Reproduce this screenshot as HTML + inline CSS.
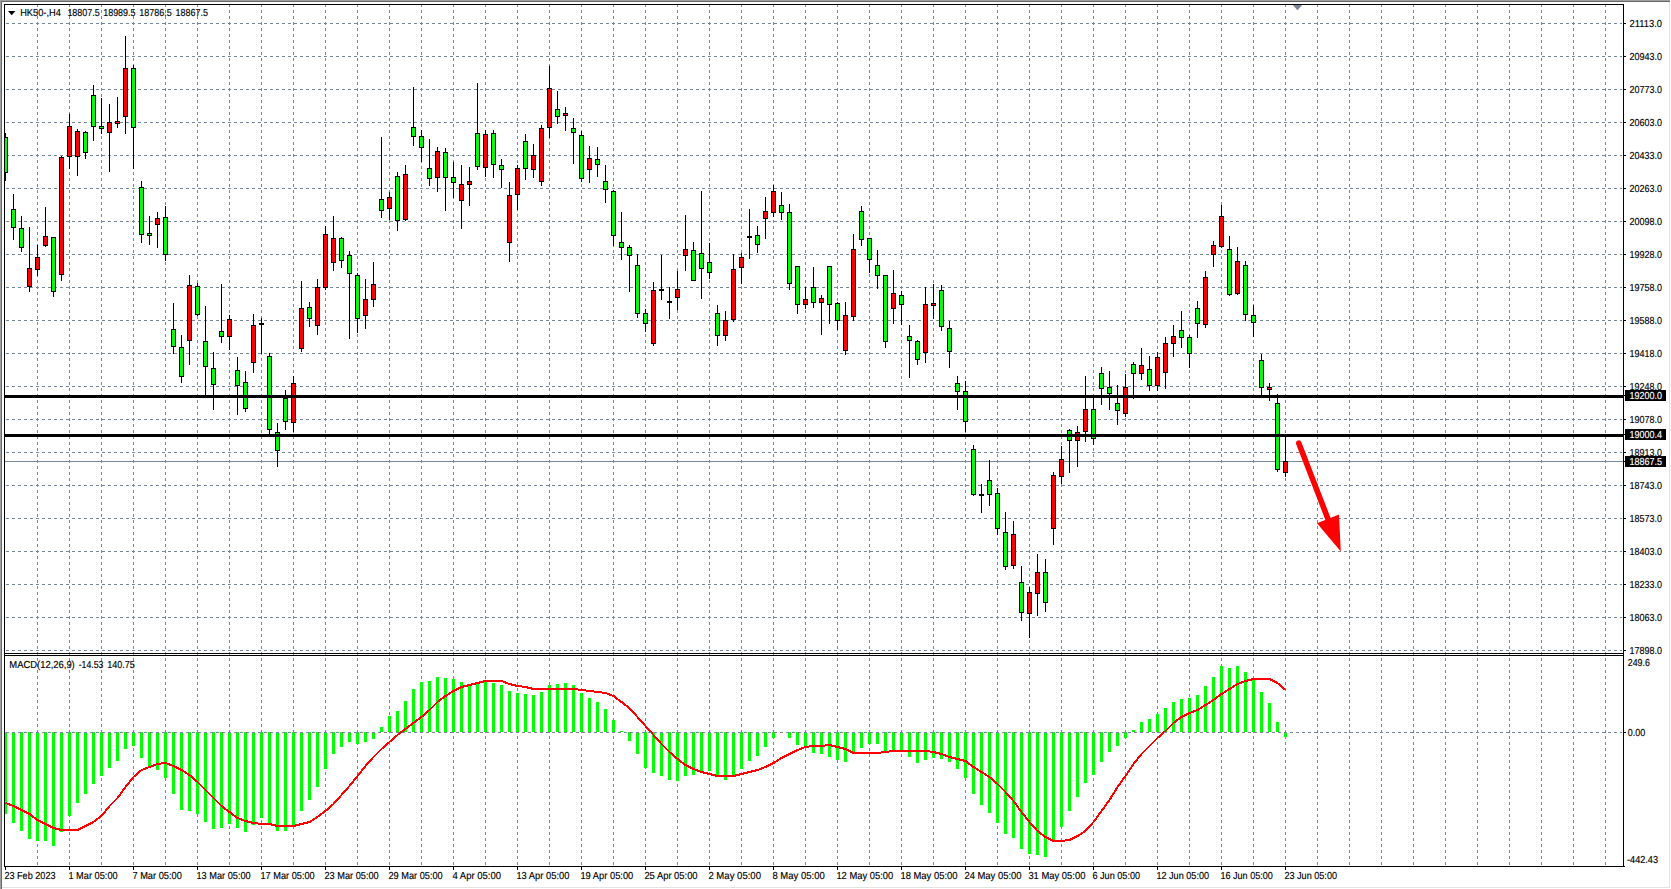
<!DOCTYPE html>
<html><head><meta charset="utf-8"><title>HK50-,H4</title>
<style>
html,body{margin:0;padding:0;background:#fff;width:1671px;height:889px;overflow:hidden;font-family:"Liberation Sans",sans-serif;}
text{font-family:"Liberation Sans",sans-serif;}
</style></head>
<body>
<svg width="1671" height="889" viewBox="0 0 1671 889" shape-rendering="crispEdges" text-rendering="geometricPrecision" font-family="'Liberation Sans', sans-serif" style="position:absolute;left:0;top:0;display:block">
<rect x="0" y="0" width="1671" height="889" fill="#ffffff"/>
<rect x="0" y="0" width="1670" height="1" fill="#a0a0a0"/>
<rect x="0" y="1" width="1670" height="1" fill="#696969"/>
<rect x="0" y="0" width="1" height="889" fill="#a0a0a0"/>
<rect x="1" y="1" width="1" height="889" fill="#696969"/>
<rect x="1669" y="2" width="1" height="886" fill="#e3e3e3"/>
<rect x="2" y="887" width="1668" height="1" fill="#e3e3e3"/>
<path d="M37.5 4V866M69.5 4V866M101.5 4V866M133.5 4V866M165.5 4V866M197.5 4V866M229.5 4V866M261.5 4V866M293.5 4V866M325.5 4V866M357.5 4V866M389.5 4V866M421.5 4V866M453.5 4V866M485.5 4V866M517.5 4V866M549.5 4V866M581.5 4V866M613.5 4V866M645.5 4V866M677.5 4V866M709.5 4V866M741.5 4V866M773.5 4V866M805.5 4V866M837.5 4V866M869.5 4V866M901.5 4V866M933.5 4V866M965.5 4V866M997.5 4V866M1029.5 4V866M1061.5 4V866M1093.5 4V866M1125.5 4V866M1157.5 4V866M1189.5 4V866M1221.5 4V866M1253.5 4V866M1285.5 4V866M1317.5 4V866M1349.5 4V866M1381.5 4V866M1413.5 4V866M1445.5 4V866M1477.5 4V866M1509.5 4V866M1541.5 4V866M1573.5 4V866M1605.5 4V866" stroke="#778899" stroke-width="1" stroke-dasharray="3 3" fill="none"/>
<path d="M6 23.5H1622M6 56.5H1622M6 89.5H1622M6 122.5H1622M6 155.5H1622M6 188.5H1622M6 221.5H1622M6 254.5H1622M6 287.5H1622M6 320.5H1622M6 353.5H1622M6 386.5H1622M6 419.5H1622M6 452.5H1622M6 485.5H1622M6 518.5H1622M6 551.5H1622M6 584.5H1622M6 617.5H1622M6 650.5H1622M6 732.5H1622" stroke="#778899" stroke-width="1" stroke-dasharray="3 3" fill="none"/>
<path d="M1292.8 5H1302.2L1297.5 10.2Z" fill="#778899" shape-rendering="geometricPrecision"/>
<rect x="5" y="461" width="1618" height="1" fill="#778899"/>
<rect x="5" y="133" width="1" height="48" fill="#000"/>
<rect x="3" y="137" width="5" height="36" fill="#000"/>
<rect x="4" y="138" width="3" height="34" fill="#00ff00"/>
<rect x="13" y="194" width="1" height="46" fill="#000"/>
<rect x="11" y="209" width="5" height="19" fill="#000"/>
<rect x="12" y="210" width="3" height="17" fill="#00ff00"/>
<rect x="21" y="216" width="1" height="36" fill="#000"/>
<rect x="19" y="228" width="5" height="20" fill="#000"/>
<rect x="20" y="229" width="3" height="18" fill="#00ff00"/>
<rect x="29" y="227" width="1" height="65" fill="#000"/>
<rect x="27" y="268" width="5" height="19" fill="#000"/>
<rect x="28" y="269" width="3" height="17" fill="#ff0000"/>
<rect x="37" y="245" width="1" height="31" fill="#000"/>
<rect x="35" y="257" width="5" height="13" fill="#000"/>
<rect x="36" y="258" width="3" height="11" fill="#ff0000"/>
<rect x="45" y="207" width="1" height="40" fill="#000"/>
<rect x="43" y="236" width="5" height="10" fill="#000"/>
<rect x="44" y="237" width="3" height="8" fill="#ff0000"/>
<rect x="53" y="237" width="1" height="60" fill="#000"/>
<rect x="51" y="237" width="5" height="55" fill="#000"/>
<rect x="52" y="238" width="3" height="53" fill="#00ff00"/>
<rect x="61" y="156" width="1" height="125" fill="#000"/>
<rect x="59" y="157" width="5" height="118" fill="#000"/>
<rect x="60" y="158" width="3" height="116" fill="#ff0000"/>
<rect x="69" y="114" width="1" height="55" fill="#000"/>
<rect x="67" y="126" width="5" height="31" fill="#000"/>
<rect x="68" y="127" width="3" height="29" fill="#ff0000"/>
<rect x="77" y="129" width="1" height="47" fill="#000"/>
<rect x="75" y="131" width="5" height="26" fill="#000"/>
<rect x="76" y="132" width="3" height="24" fill="#ff0000"/>
<rect x="85" y="131" width="1" height="28" fill="#000"/>
<rect x="83" y="132" width="5" height="21" fill="#000"/>
<rect x="84" y="133" width="3" height="19" fill="#00ff00"/>
<rect x="93" y="85" width="1" height="56" fill="#000"/>
<rect x="91" y="95" width="5" height="32" fill="#000"/>
<rect x="92" y="96" width="3" height="30" fill="#00ff00"/>
<rect x="101" y="98" width="1" height="36" fill="#000"/>
<rect x="99" y="126" width="5" height="3" fill="#000"/>
<rect x="100" y="127" width="3" height="1" fill="#00ff00"/>
<rect x="109" y="104" width="1" height="68" fill="#000"/>
<rect x="107" y="122" width="5" height="11" fill="#000"/>
<rect x="108" y="123" width="3" height="9" fill="#ff0000"/>
<rect x="117" y="97" width="1" height="31" fill="#000"/>
<rect x="115" y="121" width="5" height="3" fill="#000"/>
<rect x="116" y="122" width="3" height="1" fill="#ff0000"/>
<rect x="125" y="36" width="1" height="98" fill="#000"/>
<rect x="123" y="68" width="5" height="49" fill="#000"/>
<rect x="124" y="69" width="3" height="47" fill="#ff0000"/>
<rect x="133" y="65" width="1" height="104" fill="#000"/>
<rect x="131" y="68" width="5" height="60" fill="#000"/>
<rect x="132" y="69" width="3" height="58" fill="#00ff00"/>
<rect x="141" y="181" width="1" height="62" fill="#000"/>
<rect x="139" y="187" width="5" height="48" fill="#000"/>
<rect x="140" y="188" width="3" height="46" fill="#00ff00"/>
<rect x="149" y="216" width="1" height="29" fill="#000"/>
<rect x="147" y="233" width="5" height="3" fill="#000"/>
<rect x="148" y="234" width="3" height="1" fill="#00ff00"/>
<rect x="157" y="212" width="1" height="36" fill="#000"/>
<rect x="155" y="218" width="5" height="7" fill="#000"/>
<rect x="156" y="219" width="3" height="5" fill="#ff0000"/>
<rect x="165" y="206" width="1" height="55" fill="#000"/>
<rect x="163" y="217" width="5" height="38" fill="#000"/>
<rect x="164" y="218" width="3" height="36" fill="#00ff00"/>
<rect x="173" y="303" width="1" height="51" fill="#000"/>
<rect x="171" y="329" width="5" height="18" fill="#000"/>
<rect x="172" y="330" width="3" height="16" fill="#00ff00"/>
<rect x="181" y="335" width="1" height="48" fill="#000"/>
<rect x="179" y="347" width="5" height="30" fill="#000"/>
<rect x="180" y="348" width="3" height="28" fill="#00ff00"/>
<rect x="189" y="275" width="1" height="90" fill="#000"/>
<rect x="187" y="285" width="5" height="56" fill="#000"/>
<rect x="188" y="286" width="3" height="54" fill="#ff0000"/>
<rect x="197" y="283" width="1" height="33" fill="#000"/>
<rect x="195" y="286" width="5" height="29" fill="#000"/>
<rect x="196" y="287" width="3" height="27" fill="#00ff00"/>
<rect x="205" y="306" width="1" height="89" fill="#000"/>
<rect x="203" y="341" width="5" height="26" fill="#000"/>
<rect x="204" y="342" width="3" height="24" fill="#00ff00"/>
<rect x="213" y="352" width="1" height="58" fill="#000"/>
<rect x="211" y="368" width="5" height="17" fill="#000"/>
<rect x="212" y="369" width="3" height="15" fill="#00ff00"/>
<rect x="221" y="284" width="1" height="59" fill="#000"/>
<rect x="219" y="331" width="5" height="6" fill="#000"/>
<rect x="220" y="332" width="3" height="4" fill="#00ff00"/>
<rect x="229" y="315" width="1" height="35" fill="#000"/>
<rect x="227" y="319" width="5" height="18" fill="#000"/>
<rect x="228" y="320" width="3" height="16" fill="#ff0000"/>
<rect x="237" y="357" width="1" height="58" fill="#000"/>
<rect x="235" y="370" width="5" height="16" fill="#000"/>
<rect x="236" y="371" width="3" height="14" fill="#00ff00"/>
<rect x="245" y="371" width="1" height="41" fill="#000"/>
<rect x="243" y="382" width="5" height="27" fill="#000"/>
<rect x="244" y="383" width="3" height="25" fill="#00ff00"/>
<rect x="253" y="314" width="1" height="59" fill="#000"/>
<rect x="251" y="325" width="5" height="38" fill="#000"/>
<rect x="252" y="326" width="3" height="36" fill="#ff0000"/>
<rect x="261" y="318" width="1" height="36" fill="#000"/>
<rect x="259" y="323" width="5" height="2" fill="#000"/>
<rect x="269" y="353" width="1" height="81" fill="#000"/>
<rect x="267" y="356" width="5" height="74" fill="#000"/>
<rect x="268" y="357" width="3" height="72" fill="#00ff00"/>
<rect x="277" y="423" width="1" height="44" fill="#000"/>
<rect x="275" y="432" width="5" height="19" fill="#000"/>
<rect x="276" y="433" width="3" height="17" fill="#00ff00"/>
<rect x="285" y="390" width="1" height="40" fill="#000"/>
<rect x="283" y="398" width="5" height="24" fill="#000"/>
<rect x="284" y="399" width="3" height="22" fill="#00ff00"/>
<rect x="293" y="376" width="1" height="56" fill="#000"/>
<rect x="291" y="383" width="5" height="40" fill="#000"/>
<rect x="292" y="384" width="3" height="38" fill="#ff0000"/>
<rect x="301" y="281" width="1" height="71" fill="#000"/>
<rect x="299" y="308" width="5" height="41" fill="#000"/>
<rect x="300" y="309" width="3" height="39" fill="#ff0000"/>
<rect x="309" y="302" width="1" height="25" fill="#000"/>
<rect x="307" y="307" width="5" height="12" fill="#000"/>
<rect x="308" y="308" width="3" height="10" fill="#00ff00"/>
<rect x="317" y="279" width="1" height="56" fill="#000"/>
<rect x="315" y="287" width="5" height="39" fill="#000"/>
<rect x="316" y="288" width="3" height="37" fill="#ff0000"/>
<rect x="325" y="226" width="1" height="64" fill="#000"/>
<rect x="323" y="234" width="5" height="54" fill="#000"/>
<rect x="324" y="235" width="3" height="52" fill="#ff0000"/>
<rect x="333" y="216" width="1" height="55" fill="#000"/>
<rect x="331" y="238" width="5" height="25" fill="#000"/>
<rect x="332" y="239" width="3" height="23" fill="#ff0000"/>
<rect x="341" y="237" width="1" height="31" fill="#000"/>
<rect x="339" y="238" width="5" height="23" fill="#000"/>
<rect x="340" y="239" width="3" height="21" fill="#00ff00"/>
<rect x="349" y="251" width="1" height="88" fill="#000"/>
<rect x="347" y="255" width="5" height="19" fill="#000"/>
<rect x="348" y="256" width="3" height="17" fill="#00ff00"/>
<rect x="357" y="273" width="1" height="60" fill="#000"/>
<rect x="355" y="275" width="5" height="44" fill="#000"/>
<rect x="356" y="276" width="3" height="42" fill="#00ff00"/>
<rect x="365" y="279" width="1" height="50" fill="#000"/>
<rect x="363" y="299" width="5" height="17" fill="#000"/>
<rect x="364" y="300" width="3" height="15" fill="#ff0000"/>
<rect x="373" y="262" width="1" height="45" fill="#000"/>
<rect x="371" y="284" width="5" height="16" fill="#000"/>
<rect x="372" y="285" width="3" height="14" fill="#ff0000"/>
<rect x="381" y="137" width="1" height="81" fill="#000"/>
<rect x="379" y="199" width="5" height="12" fill="#000"/>
<rect x="380" y="200" width="3" height="10" fill="#00ff00"/>
<rect x="389" y="192" width="1" height="28" fill="#000"/>
<rect x="387" y="197" width="5" height="12" fill="#000"/>
<rect x="388" y="198" width="3" height="10" fill="#ff0000"/>
<rect x="397" y="172" width="1" height="59" fill="#000"/>
<rect x="395" y="176" width="5" height="45" fill="#000"/>
<rect x="396" y="177" width="3" height="43" fill="#00ff00"/>
<rect x="405" y="165" width="1" height="56" fill="#000"/>
<rect x="403" y="174" width="5" height="46" fill="#000"/>
<rect x="404" y="175" width="3" height="44" fill="#ff0000"/>
<rect x="413" y="87" width="1" height="59" fill="#000"/>
<rect x="411" y="127" width="5" height="10" fill="#000"/>
<rect x="412" y="128" width="3" height="8" fill="#00ff00"/>
<rect x="421" y="130" width="1" height="32" fill="#000"/>
<rect x="419" y="136" width="5" height="12" fill="#000"/>
<rect x="420" y="137" width="3" height="10" fill="#00ff00"/>
<rect x="429" y="139" width="1" height="47" fill="#000"/>
<rect x="427" y="168" width="5" height="11" fill="#000"/>
<rect x="428" y="169" width="3" height="9" fill="#00ff00"/>
<rect x="437" y="147" width="1" height="45" fill="#000"/>
<rect x="435" y="151" width="5" height="27" fill="#000"/>
<rect x="436" y="152" width="3" height="25" fill="#ff0000"/>
<rect x="445" y="148" width="1" height="63" fill="#000"/>
<rect x="443" y="152" width="5" height="26" fill="#000"/>
<rect x="444" y="153" width="3" height="24" fill="#00ff00"/>
<rect x="453" y="162" width="1" height="36" fill="#000"/>
<rect x="451" y="177" width="5" height="6" fill="#000"/>
<rect x="452" y="178" width="3" height="4" fill="#00ff00"/>
<rect x="461" y="165" width="1" height="64" fill="#000"/>
<rect x="459" y="184" width="5" height="17" fill="#000"/>
<rect x="460" y="185" width="3" height="15" fill="#ff0000"/>
<rect x="469" y="167" width="1" height="39" fill="#000"/>
<rect x="467" y="181" width="5" height="4" fill="#000"/>
<rect x="468" y="182" width="3" height="2" fill="#ff0000"/>
<rect x="477" y="83" width="1" height="87" fill="#000"/>
<rect x="475" y="133" width="5" height="34" fill="#000"/>
<rect x="476" y="134" width="3" height="32" fill="#00ff00"/>
<rect x="485" y="130" width="1" height="47" fill="#000"/>
<rect x="483" y="134" width="5" height="34" fill="#000"/>
<rect x="484" y="135" width="3" height="32" fill="#ff0000"/>
<rect x="493" y="130" width="1" height="48" fill="#000"/>
<rect x="491" y="133" width="5" height="32" fill="#000"/>
<rect x="492" y="134" width="3" height="30" fill="#00ff00"/>
<rect x="501" y="159" width="1" height="29" fill="#000"/>
<rect x="499" y="165" width="5" height="5" fill="#000"/>
<rect x="500" y="166" width="3" height="3" fill="#00ff00"/>
<rect x="509" y="182" width="1" height="80" fill="#000"/>
<rect x="507" y="195" width="5" height="48" fill="#000"/>
<rect x="508" y="196" width="3" height="46" fill="#ff0000"/>
<rect x="517" y="165" width="1" height="45" fill="#000"/>
<rect x="515" y="168" width="5" height="27" fill="#000"/>
<rect x="516" y="169" width="3" height="25" fill="#ff0000"/>
<rect x="525" y="134" width="1" height="46" fill="#000"/>
<rect x="523" y="141" width="5" height="28" fill="#000"/>
<rect x="524" y="142" width="3" height="26" fill="#00ff00"/>
<rect x="533" y="144" width="1" height="34" fill="#000"/>
<rect x="531" y="155" width="5" height="15" fill="#000"/>
<rect x="532" y="156" width="3" height="13" fill="#ff0000"/>
<rect x="541" y="125" width="1" height="61" fill="#000"/>
<rect x="539" y="128" width="5" height="54" fill="#000"/>
<rect x="540" y="129" width="3" height="52" fill="#ff0000"/>
<rect x="549" y="66" width="1" height="72" fill="#000"/>
<rect x="547" y="88" width="5" height="40" fill="#000"/>
<rect x="548" y="89" width="3" height="38" fill="#ff0000"/>
<rect x="557" y="91" width="1" height="33" fill="#000"/>
<rect x="555" y="109" width="5" height="8" fill="#000"/>
<rect x="556" y="110" width="3" height="6" fill="#00ff00"/>
<rect x="565" y="107" width="1" height="24" fill="#000"/>
<rect x="563" y="113" width="5" height="3" fill="#000"/>
<rect x="564" y="114" width="3" height="1" fill="#ff0000"/>
<rect x="573" y="118" width="1" height="46" fill="#000"/>
<rect x="571" y="128" width="5" height="5" fill="#000"/>
<rect x="572" y="129" width="3" height="3" fill="#00ff00"/>
<rect x="581" y="131" width="1" height="51" fill="#000"/>
<rect x="579" y="135" width="5" height="44" fill="#000"/>
<rect x="580" y="136" width="3" height="42" fill="#00ff00"/>
<rect x="589" y="146" width="1" height="37" fill="#000"/>
<rect x="587" y="158" width="5" height="12" fill="#000"/>
<rect x="588" y="159" width="3" height="10" fill="#ff0000"/>
<rect x="597" y="147" width="1" height="30" fill="#000"/>
<rect x="595" y="159" width="5" height="6" fill="#000"/>
<rect x="596" y="160" width="3" height="4" fill="#00ff00"/>
<rect x="605" y="165" width="1" height="38" fill="#000"/>
<rect x="603" y="181" width="5" height="9" fill="#000"/>
<rect x="604" y="182" width="3" height="7" fill="#00ff00"/>
<rect x="613" y="190" width="1" height="56" fill="#000"/>
<rect x="611" y="191" width="5" height="45" fill="#000"/>
<rect x="612" y="192" width="3" height="43" fill="#00ff00"/>
<rect x="621" y="212" width="1" height="48" fill="#000"/>
<rect x="619" y="242" width="5" height="6" fill="#000"/>
<rect x="620" y="243" width="3" height="4" fill="#00ff00"/>
<rect x="629" y="245" width="1" height="47" fill="#000"/>
<rect x="627" y="247" width="5" height="9" fill="#000"/>
<rect x="628" y="248" width="3" height="7" fill="#00ff00"/>
<rect x="637" y="254" width="1" height="64" fill="#000"/>
<rect x="635" y="265" width="5" height="49" fill="#000"/>
<rect x="636" y="266" width="3" height="47" fill="#00ff00"/>
<rect x="645" y="309" width="1" height="23" fill="#000"/>
<rect x="643" y="313" width="5" height="11" fill="#000"/>
<rect x="644" y="314" width="3" height="9" fill="#00ff00"/>
<rect x="653" y="282" width="1" height="64" fill="#000"/>
<rect x="651" y="290" width="5" height="54" fill="#000"/>
<rect x="652" y="291" width="3" height="52" fill="#ff0000"/>
<rect x="661" y="255" width="1" height="45" fill="#000"/>
<rect x="659" y="289" width="5" height="2" fill="#000"/>
<rect x="669" y="287" width="1" height="32" fill="#000"/>
<rect x="667" y="301" width="5" height="2" fill="#000"/>
<rect x="677" y="271" width="1" height="39" fill="#000"/>
<rect x="675" y="289" width="5" height="9" fill="#000"/>
<rect x="676" y="290" width="3" height="7" fill="#ff0000"/>
<rect x="685" y="215" width="1" height="56" fill="#000"/>
<rect x="683" y="249" width="5" height="7" fill="#000"/>
<rect x="684" y="250" width="3" height="5" fill="#ff0000"/>
<rect x="693" y="242" width="1" height="38" fill="#000"/>
<rect x="691" y="250" width="5" height="31" fill="#000"/>
<rect x="692" y="251" width="3" height="29" fill="#00ff00"/>
<rect x="701" y="191" width="1" height="108" fill="#000"/>
<rect x="699" y="253" width="5" height="16" fill="#000"/>
<rect x="700" y="254" width="3" height="14" fill="#00ff00"/>
<rect x="709" y="243" width="1" height="36" fill="#000"/>
<rect x="707" y="262" width="5" height="11" fill="#000"/>
<rect x="708" y="263" width="3" height="9" fill="#00ff00"/>
<rect x="717" y="305" width="1" height="41" fill="#000"/>
<rect x="715" y="313" width="5" height="23" fill="#000"/>
<rect x="716" y="314" width="3" height="21" fill="#00ff00"/>
<rect x="725" y="311" width="1" height="30" fill="#000"/>
<rect x="723" y="320" width="5" height="16" fill="#000"/>
<rect x="724" y="321" width="3" height="14" fill="#ff0000"/>
<rect x="733" y="254" width="1" height="68" fill="#000"/>
<rect x="731" y="269" width="5" height="51" fill="#000"/>
<rect x="732" y="270" width="3" height="49" fill="#ff0000"/>
<rect x="741" y="253" width="1" height="31" fill="#000"/>
<rect x="739" y="257" width="5" height="11" fill="#000"/>
<rect x="740" y="258" width="3" height="9" fill="#ff0000"/>
<rect x="749" y="209" width="1" height="50" fill="#000"/>
<rect x="747" y="236" width="5" height="2" fill="#000"/>
<rect x="757" y="226" width="1" height="27" fill="#000"/>
<rect x="755" y="235" width="5" height="10" fill="#000"/>
<rect x="756" y="236" width="3" height="8" fill="#00ff00"/>
<rect x="765" y="197" width="1" height="42" fill="#000"/>
<rect x="763" y="211" width="5" height="8" fill="#000"/>
<rect x="764" y="212" width="3" height="6" fill="#ff0000"/>
<rect x="773" y="185" width="1" height="32" fill="#000"/>
<rect x="771" y="191" width="5" height="22" fill="#000"/>
<rect x="772" y="192" width="3" height="20" fill="#ff0000"/>
<rect x="781" y="192" width="1" height="28" fill="#000"/>
<rect x="779" y="205" width="5" height="8" fill="#000"/>
<rect x="780" y="206" width="3" height="6" fill="#00ff00"/>
<rect x="789" y="204" width="1" height="86" fill="#000"/>
<rect x="787" y="212" width="5" height="72" fill="#000"/>
<rect x="788" y="213" width="3" height="70" fill="#00ff00"/>
<rect x="797" y="266" width="1" height="48" fill="#000"/>
<rect x="795" y="266" width="5" height="39" fill="#000"/>
<rect x="796" y="267" width="3" height="37" fill="#00ff00"/>
<rect x="805" y="287" width="1" height="22" fill="#000"/>
<rect x="803" y="299" width="5" height="6" fill="#000"/>
<rect x="804" y="300" width="3" height="4" fill="#ff0000"/>
<rect x="813" y="267" width="1" height="41" fill="#000"/>
<rect x="811" y="287" width="5" height="16" fill="#000"/>
<rect x="812" y="288" width="3" height="14" fill="#00ff00"/>
<rect x="821" y="295" width="1" height="40" fill="#000"/>
<rect x="819" y="298" width="5" height="5" fill="#000"/>
<rect x="820" y="299" width="3" height="3" fill="#ff0000"/>
<rect x="829" y="266" width="1" height="58" fill="#000"/>
<rect x="827" y="266" width="5" height="39" fill="#000"/>
<rect x="828" y="267" width="3" height="37" fill="#00ff00"/>
<rect x="837" y="302" width="1" height="28" fill="#000"/>
<rect x="835" y="303" width="5" height="18" fill="#000"/>
<rect x="836" y="304" width="3" height="16" fill="#00ff00"/>
<rect x="845" y="302" width="1" height="53" fill="#000"/>
<rect x="843" y="315" width="5" height="36" fill="#000"/>
<rect x="844" y="316" width="3" height="34" fill="#ff0000"/>
<rect x="853" y="234" width="1" height="87" fill="#000"/>
<rect x="851" y="249" width="5" height="68" fill="#000"/>
<rect x="852" y="250" width="3" height="66" fill="#ff0000"/>
<rect x="861" y="206" width="1" height="40" fill="#000"/>
<rect x="859" y="211" width="5" height="29" fill="#000"/>
<rect x="860" y="212" width="3" height="27" fill="#00ff00"/>
<rect x="869" y="238" width="1" height="35" fill="#000"/>
<rect x="867" y="238" width="5" height="22" fill="#000"/>
<rect x="868" y="239" width="3" height="20" fill="#00ff00"/>
<rect x="877" y="250" width="1" height="39" fill="#000"/>
<rect x="875" y="265" width="5" height="11" fill="#000"/>
<rect x="876" y="266" width="3" height="9" fill="#00ff00"/>
<rect x="885" y="275" width="1" height="73" fill="#000"/>
<rect x="883" y="275" width="5" height="67" fill="#000"/>
<rect x="884" y="276" width="3" height="65" fill="#00ff00"/>
<rect x="893" y="270" width="1" height="54" fill="#000"/>
<rect x="891" y="293" width="5" height="16" fill="#000"/>
<rect x="892" y="294" width="3" height="14" fill="#ff0000"/>
<rect x="901" y="291" width="1" height="34" fill="#000"/>
<rect x="899" y="295" width="5" height="10" fill="#000"/>
<rect x="900" y="296" width="3" height="8" fill="#00ff00"/>
<rect x="909" y="325" width="1" height="53" fill="#000"/>
<rect x="907" y="336" width="5" height="5" fill="#000"/>
<rect x="908" y="337" width="3" height="3" fill="#00ff00"/>
<rect x="917" y="340" width="1" height="25" fill="#000"/>
<rect x="915" y="341" width="5" height="19" fill="#000"/>
<rect x="916" y="342" width="3" height="17" fill="#00ff00"/>
<rect x="925" y="287" width="1" height="76" fill="#000"/>
<rect x="923" y="304" width="5" height="49" fill="#000"/>
<rect x="924" y="305" width="3" height="47" fill="#ff0000"/>
<rect x="933" y="284" width="1" height="35" fill="#000"/>
<rect x="931" y="303" width="5" height="3" fill="#000"/>
<rect x="932" y="304" width="3" height="1" fill="#ff0000"/>
<rect x="941" y="285" width="1" height="46" fill="#000"/>
<rect x="939" y="290" width="5" height="37" fill="#000"/>
<rect x="940" y="291" width="3" height="35" fill="#00ff00"/>
<rect x="949" y="321" width="1" height="47" fill="#000"/>
<rect x="947" y="328" width="5" height="24" fill="#000"/>
<rect x="948" y="329" width="3" height="22" fill="#00ff00"/>
<rect x="957" y="376" width="1" height="34" fill="#000"/>
<rect x="955" y="383" width="5" height="9" fill="#000"/>
<rect x="956" y="384" width="3" height="7" fill="#00ff00"/>
<rect x="965" y="381" width="1" height="51" fill="#000"/>
<rect x="963" y="391" width="5" height="31" fill="#000"/>
<rect x="964" y="392" width="3" height="29" fill="#00ff00"/>
<rect x="973" y="445" width="1" height="51" fill="#000"/>
<rect x="971" y="449" width="5" height="46" fill="#000"/>
<rect x="972" y="450" width="3" height="44" fill="#00ff00"/>
<rect x="981" y="484" width="1" height="29" fill="#000"/>
<rect x="979" y="494" width="5" height="2" fill="#000"/>
<rect x="989" y="460" width="1" height="46" fill="#000"/>
<rect x="987" y="480" width="5" height="15" fill="#000"/>
<rect x="988" y="481" width="3" height="13" fill="#00ff00"/>
<rect x="997" y="488" width="1" height="47" fill="#000"/>
<rect x="995" y="493" width="5" height="36" fill="#000"/>
<rect x="996" y="494" width="3" height="34" fill="#00ff00"/>
<rect x="1005" y="512" width="1" height="58" fill="#000"/>
<rect x="1003" y="532" width="5" height="35" fill="#000"/>
<rect x="1004" y="533" width="3" height="33" fill="#00ff00"/>
<rect x="1013" y="521" width="1" height="48" fill="#000"/>
<rect x="1011" y="534" width="5" height="32" fill="#000"/>
<rect x="1012" y="535" width="3" height="30" fill="#ff0000"/>
<rect x="1021" y="566" width="1" height="55" fill="#000"/>
<rect x="1019" y="582" width="5" height="31" fill="#000"/>
<rect x="1020" y="583" width="3" height="29" fill="#00ff00"/>
<rect x="1029" y="587" width="1" height="51" fill="#000"/>
<rect x="1027" y="592" width="5" height="22" fill="#000"/>
<rect x="1028" y="593" width="3" height="20" fill="#ff0000"/>
<rect x="1037" y="554" width="1" height="62" fill="#000"/>
<rect x="1035" y="572" width="5" height="22" fill="#000"/>
<rect x="1036" y="573" width="3" height="20" fill="#ff0000"/>
<rect x="1045" y="559" width="1" height="53" fill="#000"/>
<rect x="1043" y="572" width="5" height="31" fill="#000"/>
<rect x="1044" y="573" width="3" height="29" fill="#00ff00"/>
<rect x="1053" y="472" width="1" height="73" fill="#000"/>
<rect x="1051" y="475" width="5" height="54" fill="#000"/>
<rect x="1052" y="476" width="3" height="52" fill="#ff0000"/>
<rect x="1061" y="446" width="1" height="38" fill="#000"/>
<rect x="1059" y="459" width="5" height="18" fill="#000"/>
<rect x="1060" y="460" width="3" height="16" fill="#ff0000"/>
<rect x="1069" y="429" width="1" height="44" fill="#000"/>
<rect x="1067" y="430" width="5" height="11" fill="#000"/>
<rect x="1068" y="431" width="3" height="9" fill="#00ff00"/>
<rect x="1077" y="426" width="1" height="41" fill="#000"/>
<rect x="1075" y="432" width="5" height="9" fill="#000"/>
<rect x="1076" y="433" width="3" height="7" fill="#ff0000"/>
<rect x="1085" y="376" width="1" height="66" fill="#000"/>
<rect x="1083" y="409" width="5" height="23" fill="#000"/>
<rect x="1084" y="410" width="3" height="21" fill="#ff0000"/>
<rect x="1093" y="397" width="1" height="48" fill="#000"/>
<rect x="1091" y="409" width="5" height="30" fill="#000"/>
<rect x="1092" y="410" width="3" height="28" fill="#00ff00"/>
<rect x="1101" y="367" width="1" height="38" fill="#000"/>
<rect x="1099" y="373" width="5" height="16" fill="#000"/>
<rect x="1100" y="374" width="3" height="14" fill="#00ff00"/>
<rect x="1109" y="371" width="1" height="39" fill="#000"/>
<rect x="1107" y="387" width="5" height="7" fill="#000"/>
<rect x="1108" y="388" width="3" height="5" fill="#00ff00"/>
<rect x="1117" y="385" width="1" height="40" fill="#000"/>
<rect x="1115" y="403" width="5" height="8" fill="#000"/>
<rect x="1116" y="404" width="3" height="6" fill="#00ff00"/>
<rect x="1125" y="374" width="1" height="43" fill="#000"/>
<rect x="1123" y="387" width="5" height="27" fill="#000"/>
<rect x="1124" y="388" width="3" height="25" fill="#ff0000"/>
<rect x="1133" y="362" width="1" height="37" fill="#000"/>
<rect x="1131" y="364" width="5" height="10" fill="#000"/>
<rect x="1132" y="365" width="3" height="8" fill="#00ff00"/>
<rect x="1141" y="348" width="1" height="32" fill="#000"/>
<rect x="1139" y="365" width="5" height="9" fill="#000"/>
<rect x="1140" y="366" width="3" height="7" fill="#ff0000"/>
<rect x="1149" y="356" width="1" height="35" fill="#000"/>
<rect x="1147" y="369" width="5" height="17" fill="#000"/>
<rect x="1148" y="370" width="3" height="15" fill="#00ff00"/>
<rect x="1157" y="352" width="1" height="39" fill="#000"/>
<rect x="1155" y="357" width="5" height="29" fill="#000"/>
<rect x="1156" y="358" width="3" height="27" fill="#ff0000"/>
<rect x="1165" y="337" width="1" height="52" fill="#000"/>
<rect x="1163" y="343" width="5" height="30" fill="#000"/>
<rect x="1164" y="344" width="3" height="28" fill="#ff0000"/>
<rect x="1173" y="325" width="1" height="32" fill="#000"/>
<rect x="1171" y="336" width="5" height="8" fill="#000"/>
<rect x="1172" y="337" width="3" height="6" fill="#ff0000"/>
<rect x="1181" y="311" width="1" height="37" fill="#000"/>
<rect x="1179" y="330" width="5" height="8" fill="#000"/>
<rect x="1180" y="331" width="3" height="6" fill="#00ff00"/>
<rect x="1189" y="335" width="1" height="33" fill="#000"/>
<rect x="1187" y="337" width="5" height="17" fill="#000"/>
<rect x="1188" y="338" width="3" height="15" fill="#00ff00"/>
<rect x="1197" y="301" width="1" height="37" fill="#000"/>
<rect x="1195" y="308" width="5" height="16" fill="#000"/>
<rect x="1196" y="309" width="3" height="14" fill="#00ff00"/>
<rect x="1205" y="271" width="1" height="57" fill="#000"/>
<rect x="1203" y="277" width="5" height="48" fill="#000"/>
<rect x="1204" y="278" width="3" height="46" fill="#ff0000"/>
<rect x="1213" y="241" width="1" height="26" fill="#000"/>
<rect x="1211" y="245" width="5" height="10" fill="#000"/>
<rect x="1212" y="246" width="3" height="8" fill="#ff0000"/>
<rect x="1221" y="205" width="1" height="43" fill="#000"/>
<rect x="1219" y="216" width="5" height="31" fill="#000"/>
<rect x="1220" y="217" width="3" height="29" fill="#ff0000"/>
<rect x="1229" y="236" width="1" height="60" fill="#000"/>
<rect x="1227" y="249" width="5" height="46" fill="#000"/>
<rect x="1228" y="250" width="3" height="44" fill="#00ff00"/>
<rect x="1237" y="247" width="1" height="48" fill="#000"/>
<rect x="1235" y="261" width="5" height="33" fill="#000"/>
<rect x="1236" y="262" width="3" height="31" fill="#ff0000"/>
<rect x="1245" y="261" width="1" height="60" fill="#000"/>
<rect x="1243" y="265" width="5" height="50" fill="#000"/>
<rect x="1244" y="266" width="3" height="48" fill="#00ff00"/>
<rect x="1253" y="305" width="1" height="32" fill="#000"/>
<rect x="1251" y="315" width="5" height="8" fill="#000"/>
<rect x="1252" y="316" width="3" height="6" fill="#00ff00"/>
<rect x="1261" y="354" width="1" height="41" fill="#000"/>
<rect x="1259" y="360" width="5" height="28" fill="#000"/>
<rect x="1260" y="361" width="3" height="26" fill="#00ff00"/>
<rect x="1269" y="383" width="1" height="18" fill="#000"/>
<rect x="1267" y="387" width="5" height="3" fill="#000"/>
<rect x="1268" y="388" width="3" height="1" fill="#ff0000"/>
<rect x="1277" y="394" width="1" height="78" fill="#000"/>
<rect x="1275" y="403" width="5" height="67" fill="#000"/>
<rect x="1276" y="404" width="3" height="65" fill="#00ff00"/>
<rect x="1285" y="437" width="1" height="40" fill="#000"/>
<rect x="1283" y="461" width="5" height="12" fill="#000"/>
<rect x="1284" y="462" width="3" height="10" fill="#ff0000"/>
<rect x="5" y="395" width="1618" height="3" fill="#000"/>
<rect x="5" y="434" width="1618" height="3" fill="#000"/>
<g shape-rendering="geometricPrecision"><path d="M1298.8 443.2L1328 519" stroke="#ff0000" stroke-width="5.6" stroke-linecap="round" fill="none"/><path d="M1317 523.2L1339 514.6L1340.8 551.6Z" fill="#ff0000"/></g>
<rect x="4" y="732" width="3" height="82" fill="#00ff00"/>
<rect x="12" y="732" width="3" height="91" fill="#00ff00"/>
<rect x="20" y="732" width="3" height="99" fill="#00ff00"/>
<rect x="28" y="732" width="3" height="107" fill="#00ff00"/>
<rect x="36" y="732" width="3" height="109" fill="#00ff00"/>
<rect x="44" y="732" width="3" height="109" fill="#00ff00"/>
<rect x="52" y="732" width="3" height="114" fill="#00ff00"/>
<rect x="60" y="732" width="3" height="100" fill="#00ff00"/>
<rect x="68" y="732" width="3" height="84" fill="#00ff00"/>
<rect x="76" y="732" width="3" height="71" fill="#00ff00"/>
<rect x="84" y="732" width="3" height="62" fill="#00ff00"/>
<rect x="92" y="732" width="3" height="52" fill="#00ff00"/>
<rect x="100" y="732" width="3" height="44" fill="#00ff00"/>
<rect x="108" y="732" width="3" height="36" fill="#00ff00"/>
<rect x="116" y="732" width="3" height="29" fill="#00ff00"/>
<rect x="124" y="732" width="3" height="17" fill="#00ff00"/>
<rect x="132" y="732" width="3" height="14" fill="#00ff00"/>
<rect x="140" y="732" width="3" height="26" fill="#00ff00"/>
<rect x="148" y="732" width="3" height="34" fill="#00ff00"/>
<rect x="156" y="732" width="3" height="38" fill="#00ff00"/>
<rect x="164" y="732" width="3" height="46" fill="#00ff00"/>
<rect x="172" y="732" width="3" height="62" fill="#00ff00"/>
<rect x="180" y="732" width="3" height="78" fill="#00ff00"/>
<rect x="188" y="732" width="3" height="79" fill="#00ff00"/>
<rect x="196" y="732" width="3" height="82" fill="#00ff00"/>
<rect x="204" y="732" width="3" height="90" fill="#00ff00"/>
<rect x="212" y="732" width="3" height="97" fill="#00ff00"/>
<rect x="220" y="732" width="3" height="96" fill="#00ff00"/>
<rect x="228" y="732" width="3" height="92" fill="#00ff00"/>
<rect x="236" y="732" width="3" height="96" fill="#00ff00"/>
<rect x="244" y="732" width="3" height="100" fill="#00ff00"/>
<rect x="252" y="732" width="3" height="93" fill="#00ff00"/>
<rect x="260" y="732" width="3" height="86" fill="#00ff00"/>
<rect x="268" y="732" width="3" height="92" fill="#00ff00"/>
<rect x="276" y="732" width="3" height="99" fill="#00ff00"/>
<rect x="284" y="732" width="3" height="99" fill="#00ff00"/>
<rect x="292" y="732" width="3" height="94" fill="#00ff00"/>
<rect x="300" y="732" width="3" height="79" fill="#00ff00"/>
<rect x="308" y="732" width="3" height="68" fill="#00ff00"/>
<rect x="316" y="732" width="3" height="55" fill="#00ff00"/>
<rect x="324" y="732" width="3" height="37" fill="#00ff00"/>
<rect x="332" y="732" width="3" height="22" fill="#00ff00"/>
<rect x="340" y="732" width="3" height="15" fill="#00ff00"/>
<rect x="348" y="732" width="3" height="10" fill="#00ff00"/>
<rect x="356" y="732" width="3" height="12" fill="#00ff00"/>
<rect x="364" y="732" width="3" height="10" fill="#00ff00"/>
<rect x="372" y="732" width="3" height="7" fill="#00ff00"/>
<rect x="380" y="727" width="3" height="5" fill="#00ff00"/>
<rect x="388" y="716" width="3" height="16" fill="#00ff00"/>
<rect x="396" y="711" width="3" height="21" fill="#00ff00"/>
<rect x="404" y="701" width="3" height="31" fill="#00ff00"/>
<rect x="412" y="689" width="3" height="43" fill="#00ff00"/>
<rect x="420" y="682" width="3" height="50" fill="#00ff00"/>
<rect x="428" y="681" width="3" height="51" fill="#00ff00"/>
<rect x="436" y="677" width="3" height="55" fill="#00ff00"/>
<rect x="444" y="678" width="3" height="54" fill="#00ff00"/>
<rect x="452" y="679" width="3" height="53" fill="#00ff00"/>
<rect x="460" y="682" width="3" height="50" fill="#00ff00"/>
<rect x="468" y="684" width="3" height="48" fill="#00ff00"/>
<rect x="476" y="683" width="3" height="49" fill="#00ff00"/>
<rect x="484" y="682" width="3" height="50" fill="#00ff00"/>
<rect x="492" y="683" width="3" height="49" fill="#00ff00"/>
<rect x="500" y="685" width="3" height="47" fill="#00ff00"/>
<rect x="508" y="691" width="3" height="41" fill="#00ff00"/>
<rect x="516" y="693" width="3" height="39" fill="#00ff00"/>
<rect x="524" y="694" width="3" height="38" fill="#00ff00"/>
<rect x="532" y="695" width="3" height="37" fill="#00ff00"/>
<rect x="540" y="692" width="3" height="40" fill="#00ff00"/>
<rect x="548" y="685" width="3" height="47" fill="#00ff00"/>
<rect x="556" y="684" width="3" height="48" fill="#00ff00"/>
<rect x="564" y="683" width="3" height="49" fill="#00ff00"/>
<rect x="572" y="685" width="3" height="47" fill="#00ff00"/>
<rect x="580" y="693" width="3" height="39" fill="#00ff00"/>
<rect x="588" y="698" width="3" height="34" fill="#00ff00"/>
<rect x="596" y="702" width="3" height="30" fill="#00ff00"/>
<rect x="604" y="709" width="3" height="23" fill="#00ff00"/>
<rect x="612" y="720" width="3" height="12" fill="#00ff00"/>
<rect x="620" y="731" width="3" height="1" fill="#00ff00"/>
<rect x="628" y="732" width="3" height="9" fill="#00ff00"/>
<rect x="636" y="732" width="3" height="22" fill="#00ff00"/>
<rect x="644" y="732" width="3" height="36" fill="#00ff00"/>
<rect x="652" y="732" width="3" height="41" fill="#00ff00"/>
<rect x="660" y="732" width="3" height="44" fill="#00ff00"/>
<rect x="668" y="732" width="3" height="48" fill="#00ff00"/>
<rect x="676" y="732" width="3" height="49" fill="#00ff00"/>
<rect x="684" y="732" width="3" height="44" fill="#00ff00"/>
<rect x="692" y="732" width="3" height="43" fill="#00ff00"/>
<rect x="700" y="732" width="3" height="41" fill="#00ff00"/>
<rect x="708" y="732" width="3" height="39" fill="#00ff00"/>
<rect x="716" y="732" width="3" height="45" fill="#00ff00"/>
<rect x="724" y="732" width="3" height="48" fill="#00ff00"/>
<rect x="732" y="732" width="3" height="43" fill="#00ff00"/>
<rect x="740" y="732" width="3" height="37" fill="#00ff00"/>
<rect x="748" y="732" width="3" height="29" fill="#00ff00"/>
<rect x="756" y="732" width="3" height="24" fill="#00ff00"/>
<rect x="764" y="732" width="3" height="15" fill="#00ff00"/>
<rect x="772" y="732" width="3" height="6" fill="#00ff00"/>
<rect x="780" y="732" width="3" height="1" fill="#00ff00"/>
<rect x="788" y="732" width="3" height="6" fill="#00ff00"/>
<rect x="796" y="732" width="3" height="13" fill="#00ff00"/>
<rect x="804" y="732" width="3" height="16" fill="#00ff00"/>
<rect x="812" y="732" width="3" height="21" fill="#00ff00"/>
<rect x="820" y="732" width="3" height="22" fill="#00ff00"/>
<rect x="828" y="732" width="3" height="25" fill="#00ff00"/>
<rect x="836" y="732" width="3" height="28" fill="#00ff00"/>
<rect x="844" y="732" width="3" height="30" fill="#00ff00"/>
<rect x="852" y="732" width="3" height="22" fill="#00ff00"/>
<rect x="860" y="732" width="3" height="16" fill="#00ff00"/>
<rect x="868" y="732" width="3" height="12" fill="#00ff00"/>
<rect x="876" y="732" width="3" height="12" fill="#00ff00"/>
<rect x="884" y="732" width="3" height="20" fill="#00ff00"/>
<rect x="892" y="732" width="3" height="20" fill="#00ff00"/>
<rect x="900" y="732" width="3" height="20" fill="#00ff00"/>
<rect x="908" y="732" width="3" height="25" fill="#00ff00"/>
<rect x="916" y="732" width="3" height="31" fill="#00ff00"/>
<rect x="924" y="732" width="3" height="28" fill="#00ff00"/>
<rect x="932" y="732" width="3" height="26" fill="#00ff00"/>
<rect x="940" y="732" width="3" height="27" fill="#00ff00"/>
<rect x="948" y="732" width="3" height="30" fill="#00ff00"/>
<rect x="956" y="732" width="3" height="37" fill="#00ff00"/>
<rect x="964" y="732" width="3" height="46" fill="#00ff00"/>
<rect x="972" y="732" width="3" height="62" fill="#00ff00"/>
<rect x="980" y="732" width="3" height="73" fill="#00ff00"/>
<rect x="988" y="732" width="3" height="81" fill="#00ff00"/>
<rect x="996" y="732" width="3" height="91" fill="#00ff00"/>
<rect x="1004" y="732" width="3" height="102" fill="#00ff00"/>
<rect x="1012" y="732" width="3" height="106" fill="#00ff00"/>
<rect x="1020" y="732" width="3" height="117" fill="#00ff00"/>
<rect x="1028" y="732" width="3" height="122" fill="#00ff00"/>
<rect x="1036" y="732" width="3" height="123" fill="#00ff00"/>
<rect x="1044" y="732" width="3" height="125" fill="#00ff00"/>
<rect x="1052" y="732" width="3" height="109" fill="#00ff00"/>
<rect x="1060" y="732" width="3" height="95" fill="#00ff00"/>
<rect x="1068" y="732" width="3" height="79" fill="#00ff00"/>
<rect x="1076" y="732" width="3" height="65" fill="#00ff00"/>
<rect x="1084" y="732" width="3" height="51" fill="#00ff00"/>
<rect x="1092" y="732" width="3" height="43" fill="#00ff00"/>
<rect x="1100" y="732" width="3" height="30" fill="#00ff00"/>
<rect x="1108" y="732" width="3" height="20" fill="#00ff00"/>
<rect x="1116" y="732" width="3" height="14" fill="#00ff00"/>
<rect x="1124" y="732" width="3" height="6" fill="#00ff00"/>
<rect x="1132" y="730" width="3" height="2" fill="#00ff00"/>
<rect x="1140" y="722" width="3" height="10" fill="#00ff00"/>
<rect x="1148" y="719" width="3" height="13" fill="#00ff00"/>
<rect x="1156" y="714" width="3" height="18" fill="#00ff00"/>
<rect x="1164" y="708" width="3" height="24" fill="#00ff00"/>
<rect x="1172" y="702" width="3" height="30" fill="#00ff00"/>
<rect x="1180" y="699" width="3" height="33" fill="#00ff00"/>
<rect x="1188" y="698" width="3" height="34" fill="#00ff00"/>
<rect x="1196" y="695" width="3" height="37" fill="#00ff00"/>
<rect x="1204" y="686" width="3" height="46" fill="#00ff00"/>
<rect x="1212" y="677" width="3" height="55" fill="#00ff00"/>
<rect x="1220" y="666" width="3" height="66" fill="#00ff00"/>
<rect x="1228" y="668" width="3" height="64" fill="#00ff00"/>
<rect x="1236" y="666" width="3" height="66" fill="#00ff00"/>
<rect x="1244" y="672" width="3" height="60" fill="#00ff00"/>
<rect x="1252" y="678" width="3" height="54" fill="#00ff00"/>
<rect x="1260" y="692" width="3" height="40" fill="#00ff00"/>
<rect x="1268" y="703" width="3" height="29" fill="#00ff00"/>
<rect x="1276" y="722" width="3" height="10" fill="#00ff00"/>
<rect x="1284" y="732" width="3" height="5" fill="#00ff00"/>
<polyline points="5.5,803 13.5,806 21.5,810 29.5,814 37.5,820 45.5,824 53.5,828 61.5,830 69.5,830 77.5,830 85.5,826 93.5,822 101.5,816 109.5,806 117.5,798 125.5,787 133.5,777 141.5,770 149.5,767 157.5,764 165.5,763 173.5,766 181.5,770 189.5,775 197.5,782 205.5,790 213.5,798 221.5,806 229.5,812 237.5,818 245.5,821 253.5,823 261.5,824 269.5,824 277.5,826 285.5,826 293.5,826 301.5,824 309.5,822 317.5,817 325.5,811 333.5,804 341.5,795 349.5,786 357.5,776 365.5,766 373.5,757 381.5,749 389.5,742 397.5,735 405.5,729 413.5,723 421.5,717 429.5,710 437.5,702 445.5,696 453.5,691 461.5,687 469.5,685 477.5,683 485.5,681 493.5,681 501.5,681 509.5,684 517.5,686 525.5,687 533.5,689 541.5,689 549.5,689 557.5,689 565.5,689 573.5,689 581.5,690 589.5,691 597.5,692 605.5,693 613.5,696 621.5,702 629.5,708 637.5,717 645.5,726 653.5,735 661.5,744 669.5,752 677.5,759 685.5,765 693.5,769 701.5,772 709.5,774 717.5,776 725.5,776 733.5,776 741.5,774 749.5,772 757.5,770 765.5,767 773.5,763 781.5,758 789.5,754 797.5,750 805.5,747 813.5,746 821.5,746 829.5,745 837.5,747 845.5,749 853.5,753 861.5,753 869.5,753 877.5,753 885.5,752 893.5,751 901.5,751 909.5,751 917.5,751 925.5,751 933.5,752 941.5,754 949.5,757 957.5,759 965.5,761 973.5,767 981.5,772 989.5,777 997.5,784 1005.5,792 1013.5,801 1021.5,812 1029.5,822 1037.5,831 1045.5,837 1053.5,841 1061.5,841 1069.5,840 1077.5,836 1085.5,831 1093.5,822 1101.5,811 1109.5,800 1117.5,787 1125.5,776 1133.5,764 1141.5,754 1149.5,746 1157.5,738 1165.5,731 1173.5,723 1181.5,717 1189.5,713 1197.5,710 1205.5,705 1213.5,700 1221.5,694 1229.5,689 1237.5,684 1245.5,681 1253.5,679 1261.5,679 1269.5,679 1277.5,683 1285.5,690" stroke="#ff0000" stroke-width="2" fill="none" stroke-linejoin="round"/>
<path d="M6 732.5H1622" stroke="#778899" stroke-width="1" stroke-dasharray="3 3" fill="none"/>
<rect x="2" y="2" width="2" height="885" fill="#fff"/>
<rect x="4" y="4" width="1620" height="1" fill="#000"/>
<rect x="4" y="4" width="1" height="863" fill="#000"/>
<rect x="1623" y="4" width="1" height="863" fill="#000"/>
<rect x="4" y="653" width="1620" height="1" fill="#000"/>
<rect x="4" y="655" width="1620" height="1" fill="#000"/>
<rect x="4" y="866" width="1621" height="1" fill="#000"/>
<rect x="1624" y="23" width="2" height="1" fill="#000"/>
<text x="1629.60" y="27" font-size="10.17" textLength="32.36" lengthAdjust="spacingAndGlyphs" fill="#000" stroke="#000" stroke-width="0.15">21113.0</text>
<rect x="1624" y="56" width="2" height="1" fill="#000"/>
<text x="1629.60" y="60" font-size="10.17" textLength="32.44" lengthAdjust="spacingAndGlyphs" fill="#000" stroke="#000" stroke-width="0.15">20943.0</text>
<rect x="1624" y="89" width="2" height="1" fill="#000"/>
<text x="1629.60" y="93" font-size="10.17" textLength="32.44" lengthAdjust="spacingAndGlyphs" fill="#000" stroke="#000" stroke-width="0.15">20773.0</text>
<rect x="1624" y="122" width="2" height="1" fill="#000"/>
<text x="1629.60" y="126" font-size="10.17" textLength="32.44" lengthAdjust="spacingAndGlyphs" fill="#000" stroke="#000" stroke-width="0.15">20603.0</text>
<rect x="1624" y="155" width="2" height="1" fill="#000"/>
<text x="1629.60" y="159" font-size="10.17" textLength="32.44" lengthAdjust="spacingAndGlyphs" fill="#000" stroke="#000" stroke-width="0.15">20433.0</text>
<rect x="1624" y="188" width="2" height="1" fill="#000"/>
<text x="1629.60" y="192" font-size="10.17" textLength="32.44" lengthAdjust="spacingAndGlyphs" fill="#000" stroke="#000" stroke-width="0.15">20263.0</text>
<rect x="1624" y="221" width="2" height="1" fill="#000"/>
<text x="1629.60" y="225" font-size="10.17" textLength="32.44" lengthAdjust="spacingAndGlyphs" fill="#000" stroke="#000" stroke-width="0.15">20098.0</text>
<rect x="1624" y="254" width="2" height="1" fill="#000"/>
<text x="1629.60" y="258" font-size="10.17" textLength="32.44" lengthAdjust="spacingAndGlyphs" fill="#000" stroke="#000" stroke-width="0.15">19928.0</text>
<rect x="1624" y="287" width="2" height="1" fill="#000"/>
<text x="1629.60" y="291" font-size="10.17" textLength="32.44" lengthAdjust="spacingAndGlyphs" fill="#000" stroke="#000" stroke-width="0.15">19758.0</text>
<rect x="1624" y="320" width="2" height="1" fill="#000"/>
<text x="1629.60" y="324" font-size="10.17" textLength="32.44" lengthAdjust="spacingAndGlyphs" fill="#000" stroke="#000" stroke-width="0.15">19588.0</text>
<rect x="1624" y="353" width="2" height="1" fill="#000"/>
<text x="1629.60" y="357" font-size="10.17" textLength="32.44" lengthAdjust="spacingAndGlyphs" fill="#000" stroke="#000" stroke-width="0.15">19418.0</text>
<rect x="1624" y="386" width="2" height="1" fill="#000"/>
<text x="1629.60" y="390" font-size="10.17" textLength="32.44" lengthAdjust="spacingAndGlyphs" fill="#000" stroke="#000" stroke-width="0.15">19248.0</text>
<rect x="1624" y="419" width="2" height="1" fill="#000"/>
<text x="1629.60" y="423" font-size="10.17" textLength="32.44" lengthAdjust="spacingAndGlyphs" fill="#000" stroke="#000" stroke-width="0.15">19078.0</text>
<rect x="1624" y="452" width="2" height="1" fill="#000"/>
<text x="1629.60" y="456" font-size="10.17" textLength="32.44" lengthAdjust="spacingAndGlyphs" fill="#000" stroke="#000" stroke-width="0.15">18913.0</text>
<rect x="1624" y="485" width="2" height="1" fill="#000"/>
<text x="1629.60" y="489" font-size="10.17" textLength="32.44" lengthAdjust="spacingAndGlyphs" fill="#000" stroke="#000" stroke-width="0.15">18743.0</text>
<rect x="1624" y="518" width="2" height="1" fill="#000"/>
<text x="1629.60" y="522" font-size="10.17" textLength="32.44" lengthAdjust="spacingAndGlyphs" fill="#000" stroke="#000" stroke-width="0.15">18573.0</text>
<rect x="1624" y="551" width="2" height="1" fill="#000"/>
<text x="1629.60" y="555" font-size="10.17" textLength="32.44" lengthAdjust="spacingAndGlyphs" fill="#000" stroke="#000" stroke-width="0.15">18403.0</text>
<rect x="1624" y="584" width="2" height="1" fill="#000"/>
<text x="1629.60" y="588" font-size="10.17" textLength="32.44" lengthAdjust="spacingAndGlyphs" fill="#000" stroke="#000" stroke-width="0.15">18233.0</text>
<rect x="1624" y="617" width="2" height="1" fill="#000"/>
<text x="1629.60" y="621" font-size="10.17" textLength="32.44" lengthAdjust="spacingAndGlyphs" fill="#000" stroke="#000" stroke-width="0.15">18063.0</text>
<rect x="1624" y="650" width="2" height="1" fill="#000"/>
<text x="1629.60" y="654" font-size="10.17" textLength="32.44" lengthAdjust="spacingAndGlyphs" fill="#000" stroke="#000" stroke-width="0.15">17898.0</text>
<rect x="1624" y="732" width="2" height="1" fill="#000"/>
<text x="1627.80" y="666" font-size="10.17" textLength="22.02" lengthAdjust="spacingAndGlyphs" fill="#000" stroke="#000" stroke-width="0.15">249.6</text>
<text x="1627.80" y="736" font-size="10.17" textLength="17.37" lengthAdjust="spacingAndGlyphs" fill="#000" stroke="#000" stroke-width="0.15">0.00</text>
<text x="1627.00" y="863" font-size="10.17" textLength="31.01" lengthAdjust="spacingAndGlyphs" fill="#000" stroke="#000" stroke-width="0.15">-442.43</text>
<rect x="1624" y="395" width="1" height="1" fill="#000"/>
<rect x="1625" y="390" width="41" height="11" fill="#000"/>
<text x="1629.60" y="399" font-size="10.17" textLength="32.44" lengthAdjust="spacingAndGlyphs" fill="#fff" stroke="#fff" stroke-width="0.15">19200.0</text>
<rect x="1624" y="434" width="1" height="1" fill="#000"/>
<rect x="1625" y="429" width="41" height="11" fill="#000"/>
<text x="1629.60" y="438" font-size="10.17" textLength="32.44" lengthAdjust="spacingAndGlyphs" fill="#fff" stroke="#fff" stroke-width="0.15">19000.4</text>
<rect x="1624" y="461" width="1" height="1" fill="#000"/>
<rect x="1625" y="456" width="41" height="11" fill="#000"/>
<text x="1629.60" y="465" font-size="10.17" textLength="32.44" lengthAdjust="spacingAndGlyphs" fill="#fff" stroke="#fff" stroke-width="0.15">18867.5</text>
<path d="M8 11H15.4L11.7 15.2Z" fill="#000" shape-rendering="geometricPrecision"/>
<text x="20.20" y="16" font-size="10.17" textLength="40.60" lengthAdjust="spacingAndGlyphs" fill="#000" stroke="#000" stroke-width="0.15">HK50-,H4</text>
<text x="67.40" y="16" font-size="10.17" textLength="32.34" lengthAdjust="spacingAndGlyphs" fill="#000" stroke="#000" stroke-width="0.15">18807.5</text>
<text x="103.20" y="16" font-size="10.17" textLength="32.34" lengthAdjust="spacingAndGlyphs" fill="#000" stroke="#000" stroke-width="0.15">18989.5</text>
<text x="139.30" y="16" font-size="10.17" textLength="32.34" lengthAdjust="spacingAndGlyphs" fill="#000" stroke="#000" stroke-width="0.15">18786.5</text>
<text x="175.60" y="16" font-size="10.17" textLength="32.34" lengthAdjust="spacingAndGlyphs" fill="#000" stroke="#000" stroke-width="0.15">18867.5</text>
<text x="9.30" y="668" font-size="10.17" textLength="65.47" lengthAdjust="spacingAndGlyphs" fill="#000" stroke="#000" stroke-width="0.15">MACD(12,26,9)</text>
<text x="78.70" y="668" font-size="10.17" textLength="24.76" lengthAdjust="spacingAndGlyphs" fill="#000" stroke="#000" stroke-width="0.15">-14.53</text>
<text x="107.30" y="668" font-size="10.17" textLength="27.58" lengthAdjust="spacingAndGlyphs" fill="#000" stroke="#000" stroke-width="0.15">140.75</text>
<rect x="5" y="867" width="1" height="3" fill="#000"/>
<text x="4.40" y="879" font-size="10.17" textLength="51.16" lengthAdjust="spacingAndGlyphs" fill="#000" stroke="#000" stroke-width="0.15">23 Feb 2023</text>
<rect x="69" y="867" width="1" height="3" fill="#000"/>
<text x="68.40" y="879" font-size="10.17" textLength="49.26" lengthAdjust="spacingAndGlyphs" fill="#000" stroke="#000" stroke-width="0.15">1 Mar 05:00</text>
<rect x="133" y="867" width="1" height="3" fill="#000"/>
<text x="132.40" y="879" font-size="10.17" textLength="49.56" lengthAdjust="spacingAndGlyphs" fill="#000" stroke="#000" stroke-width="0.15">7 Mar 05:00</text>
<rect x="197" y="867" width="1" height="3" fill="#000"/>
<text x="196.40" y="879" font-size="10.17" textLength="54.32" lengthAdjust="spacingAndGlyphs" fill="#000" stroke="#000" stroke-width="0.15">13 Mar 05:00</text>
<rect x="261" y="867" width="1" height="3" fill="#000"/>
<text x="260.40" y="879" font-size="10.17" textLength="54.32" lengthAdjust="spacingAndGlyphs" fill="#000" stroke="#000" stroke-width="0.15">17 Mar 05:00</text>
<rect x="325" y="867" width="1" height="3" fill="#000"/>
<text x="324.40" y="879" font-size="10.17" textLength="54.32" lengthAdjust="spacingAndGlyphs" fill="#000" stroke="#000" stroke-width="0.15">23 Mar 05:00</text>
<rect x="389" y="867" width="1" height="3" fill="#000"/>
<text x="388.40" y="879" font-size="10.17" textLength="54.32" lengthAdjust="spacingAndGlyphs" fill="#000" stroke="#000" stroke-width="0.15">29 Mar 05:00</text>
<rect x="453" y="867" width="1" height="3" fill="#000"/>
<text x="452.40" y="879" font-size="10.17" textLength="48.65" lengthAdjust="spacingAndGlyphs" fill="#000" stroke="#000" stroke-width="0.15">4 Apr 05:00</text>
<rect x="517" y="867" width="1" height="3" fill="#000"/>
<text x="516.40" y="879" font-size="10.17" textLength="53.01" lengthAdjust="spacingAndGlyphs" fill="#000" stroke="#000" stroke-width="0.15">13 Apr 05:00</text>
<rect x="581" y="867" width="1" height="3" fill="#000"/>
<text x="580.40" y="879" font-size="10.17" textLength="52.91" lengthAdjust="spacingAndGlyphs" fill="#000" stroke="#000" stroke-width="0.15">19 Apr 05:00</text>
<rect x="645" y="867" width="1" height="3" fill="#000"/>
<text x="644.40" y="879" font-size="10.17" textLength="53.21" lengthAdjust="spacingAndGlyphs" fill="#000" stroke="#000" stroke-width="0.15">25 Apr 05:00</text>
<rect x="709" y="867" width="1" height="3" fill="#000"/>
<text x="708.40" y="879" font-size="10.17" textLength="52.63" lengthAdjust="spacingAndGlyphs" fill="#000" stroke="#000" stroke-width="0.15">2 May 05:00</text>
<rect x="773" y="867" width="1" height="3" fill="#000"/>
<text x="772.40" y="879" font-size="10.17" textLength="52.33" lengthAdjust="spacingAndGlyphs" fill="#000" stroke="#000" stroke-width="0.15">8 May 05:00</text>
<rect x="837" y="867" width="1" height="3" fill="#000"/>
<text x="836.40" y="879" font-size="10.17" textLength="56.79" lengthAdjust="spacingAndGlyphs" fill="#000" stroke="#000" stroke-width="0.15">12 May 05:00</text>
<rect x="901" y="867" width="1" height="3" fill="#000"/>
<text x="900.40" y="879" font-size="10.17" textLength="57.19" lengthAdjust="spacingAndGlyphs" fill="#000" stroke="#000" stroke-width="0.15">18 May 05:00</text>
<rect x="965" y="867" width="1" height="3" fill="#000"/>
<text x="964.40" y="879" font-size="10.17" textLength="57.19" lengthAdjust="spacingAndGlyphs" fill="#000" stroke="#000" stroke-width="0.15">24 May 05:00</text>
<rect x="1029" y="867" width="1" height="3" fill="#000"/>
<text x="1028.40" y="879" font-size="10.17" textLength="56.99" lengthAdjust="spacingAndGlyphs" fill="#000" stroke="#000" stroke-width="0.15">31 May 05:00</text>
<rect x="1093" y="867" width="1" height="3" fill="#000"/>
<text x="1092.40" y="879" font-size="10.17" textLength="47.76" lengthAdjust="spacingAndGlyphs" fill="#000" stroke="#000" stroke-width="0.15">6 Jun 05:00</text>
<rect x="1157" y="867" width="1" height="3" fill="#000"/>
<text x="1156.40" y="879" font-size="10.17" textLength="52.72" lengthAdjust="spacingAndGlyphs" fill="#000" stroke="#000" stroke-width="0.15">12 Jun 05:00</text>
<rect x="1221" y="867" width="1" height="3" fill="#000"/>
<text x="1220.40" y="879" font-size="10.17" textLength="52.42" lengthAdjust="spacingAndGlyphs" fill="#000" stroke="#000" stroke-width="0.15">16 Jun 05:00</text>
<rect x="1285" y="867" width="1" height="3" fill="#000"/>
<text x="1284.40" y="879" font-size="10.17" textLength="52.62" lengthAdjust="spacingAndGlyphs" fill="#000" stroke="#000" stroke-width="0.15">23 Jun 05:00</text>
</svg>
</body></html>
